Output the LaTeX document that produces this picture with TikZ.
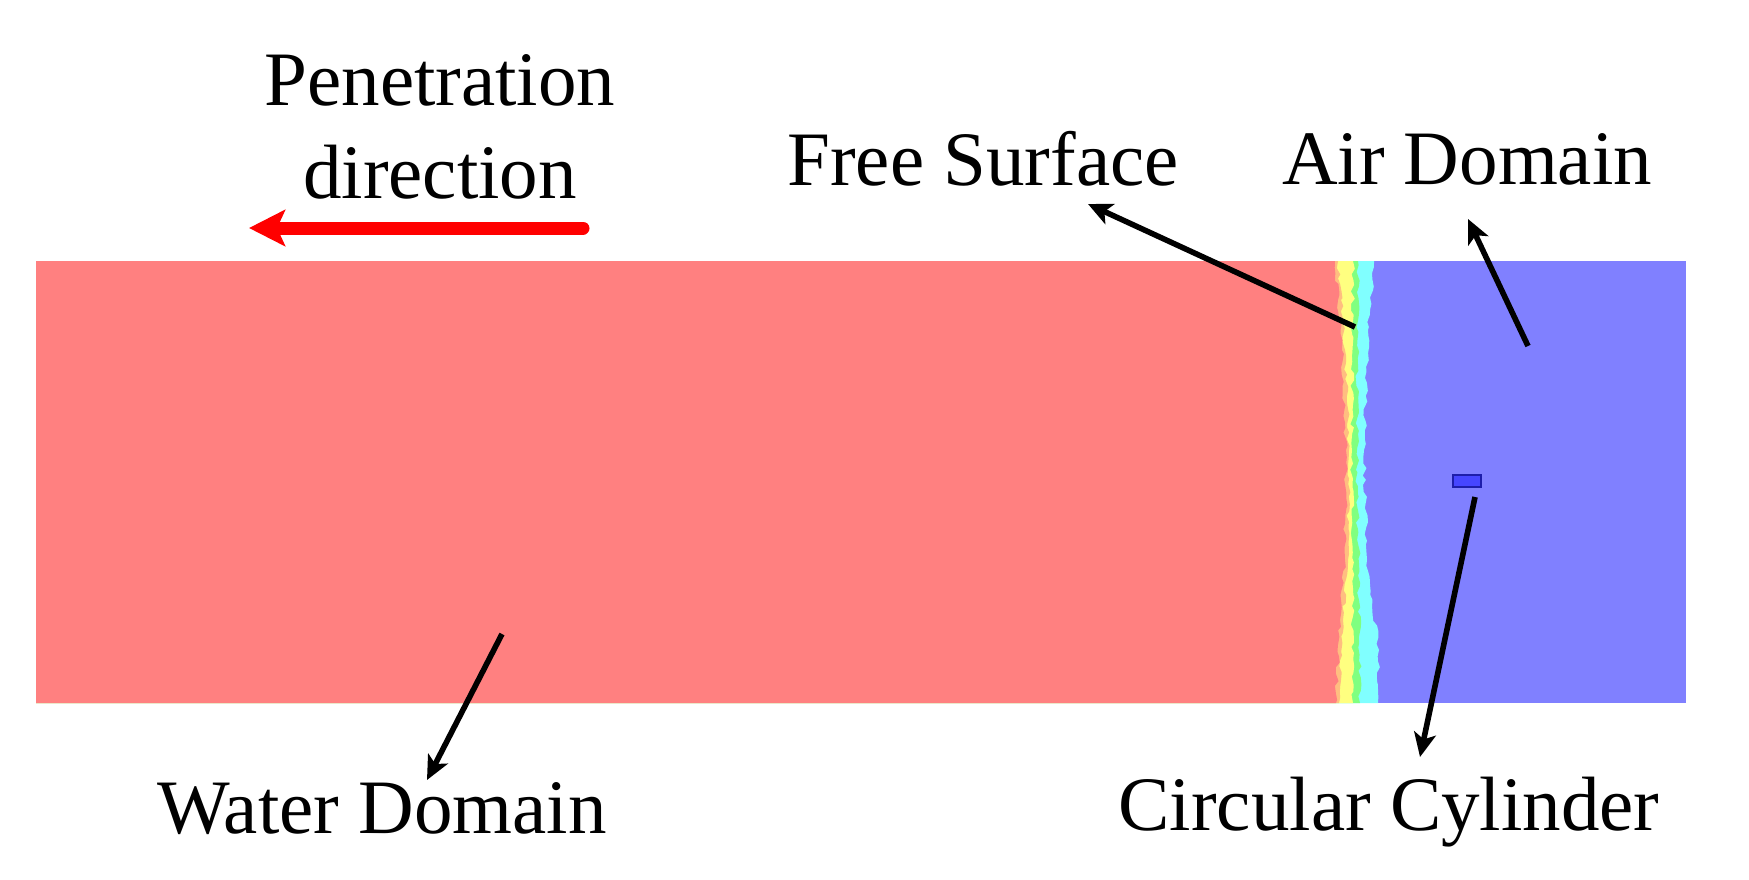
\documentclass[tikz,border=0pt]{standalone}
\usepackage{fontspec}
\setmainfont{Liberation Serif}
\usepackage{xcolor}
\usetikzlibrary{arrows.meta, positioning}
\usetikzlibrary{decorations.pathmorphing}
\definecolor{water}{RGB}{255,128,128}
\definecolor{airblue}{RGB}{128,128,255}
\definecolor{orangeband}{RGB}{255,190,128}
\definecolor{yellowband}{RGB}{255,255,128}
\definecolor{greenband}{RGB}{128,255,128}
\definecolor{cyanband}{RGB}{128,255,255}
\definecolor{cylfill}{RGB}{70,70,255}
\definecolor{cyledge}{RGB}{30,30,170}

\begin{document}
\begin{tikzpicture}[x=0.5pt,y=-0.5pt,
    domaintext/.style={font=\fontsize{38.5}{46.5}\selectfont, inner sep=0pt, anchor=base},
    pointer/.style={-{Stealth[length=12pt,width=11pt,inset=3pt]}, line width=2.8pt, black},
    wiggle/.style={decoration={random steps, segment length=3pt, amplitude=1pt}},
    cylbox/.style={draw=cyledge, fill=cylfill, line width=1.2pt, minimum width=14pt, minimum height=6pt, inner sep=0pt}]
    \useasboundingbox (0,0) rectangle (1749,879);
    \pgfmathsetseed{7}

    % domains, air first and then the bands from right to left
    \fill[airblue] (36,261) rectangle (1686,703);
    \fill[cyanband] (36,261) -- (1374,261) decorate[wiggle]{-- (1368,330) -- (1364,450) -- (1367,560) -- (1379,650) -- (1378,703)} -- (36,703) -- cycle;
    \fill[greenband] (36,261) -- (1358,261) decorate[wiggle]{-- (1357,450) -- (1359,600) -- (1360,703)} -- (36,703) -- cycle;
    \fill[yellowband] (36,261) -- (1353,261) decorate[wiggle]{-- (1352,450) -- (1353,703)} -- (36,703) -- cycle;
    \fill[orangeband] (36,261) -- (1338,261) decorate[wiggle]{-- (1341,300) -- (1345,350) -- (1349,450) -- (1348,560) -- (1343,620) -- (1339,703)} -- (36,703) -- cycle;
    \fill[water] (36,261) -- (1335,261) decorate[wiggle]{-- (1338,300) -- (1342,350) -- (1346,450) -- (1345,560) -- (1340,620) -- (1336,703)} -- (36,703) -- cycle;

    \node[cylbox] (cyl) at (1467,481) {};

    % labels
    \node[domaintext, align=center] (pen) at (440,198) {Penetration\\direction};
    \node[domaintext] (fsurf) at (983,185) {Free Surface};
    \node[domaintext] (airdom) at (1467,184) {Air Domain};
    \node[domaintext] (waterdom) at (382,833) {Water Domain};
    \node[domaintext] (cyltext) at (1389,830) {Circular Cylinder};

    \coordinate (dir-from) at (583,228);
    \coordinate (dir-to) at (249,228);
    \coordinate (fs-from) at (1355,327);
    \coordinate (fs-to) at (1088,204);
    \coordinate (air-from) at (1528,346);
    \coordinate (air-to) at (1468,219);
    \coordinate (water-from) at (502,634);
    \coordinate (water-to) at (427,780);
    \coordinate (cyl-from) at (1475,497);
    \coordinate (cyl-to) at (1420,757);

    \draw[-{Stealth[length=18pt,width=18pt,inset=4pt]}, line width=6.5pt, red, line cap=round] (dir-from) -- (dir-to);
    \draw[pointer] (fs-from) -- (fs-to);
    \draw[pointer] (air-from) -- (air-to);
    \draw[pointer] (water-from) -- (water-to);
    \draw[pointer] (cyl-from) -- (cyl-to);
\end{tikzpicture}
\end{document}
